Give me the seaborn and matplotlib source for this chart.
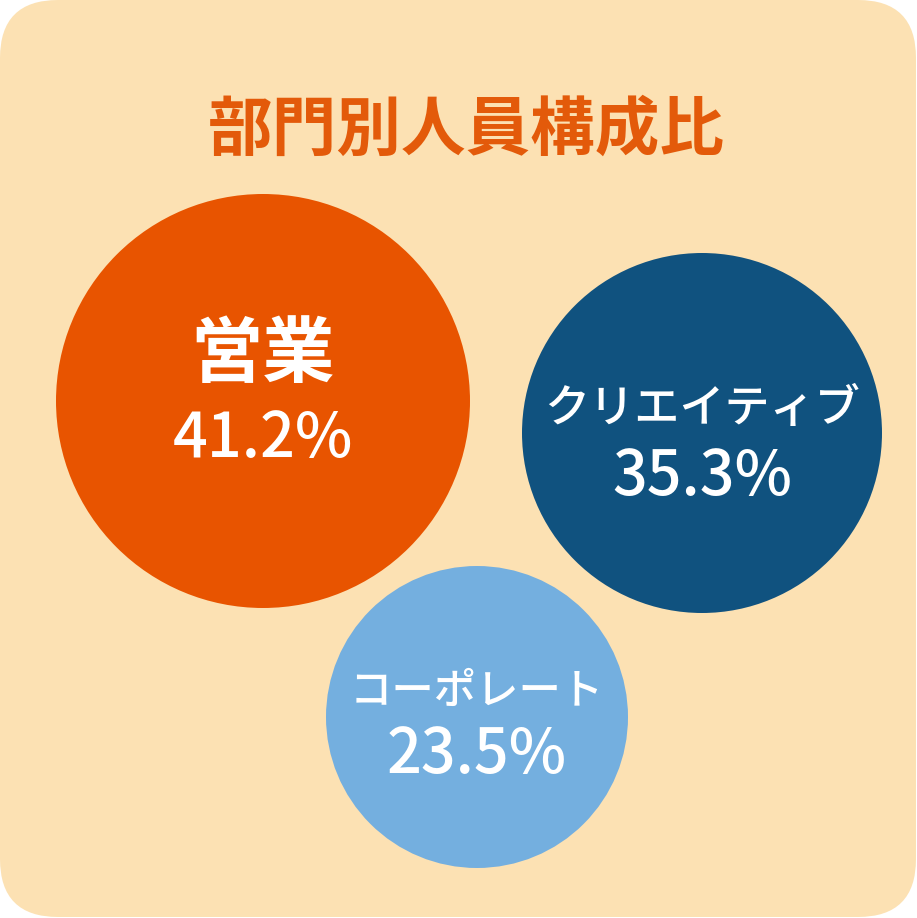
import numpy as np
import pandas as pd
import seaborn as sns
import matplotlib.pyplot as plt
from matplotlib.patches import FancyBboxPatch

# data
title = "部門別人員構成比"
departments = ["営業", "クリエイティブ", "コーポレート"]
shares = [41.2, 35.3, 23.5]

# bubble layout in pixels (packed, not data)
bubble_x = [263, 702, 477]
bubble_y = [401, 433, 717]
bubble_r = [207, 180, 151]
colors = ["#E85400", "#10527F", "#74AFDF"]
name_dy = [-45, -24, -26]
pct_dy = [39, 44, 39]
name_size = [52, 32.5, 30.5]
name_weight = ["bold", "medium", "medium"]

W, H, DPI = 917, 918, 100

sns.set_theme(style="white")
plt.rcParams["font.family"] = ["Noto Sans CJK JP", "DejaVu Sans"]

fig = plt.figure(figsize=(W / DPI, H / DPI), dpi=DPI)
fig.patch.set_facecolor("white")
ax = fig.add_axes([0, 0, 1, 1])
ax.set_xlim(0, W)
ax.set_ylim(H, 0)
ax.axis("off")

bg = FancyBboxPatch((0, 0), W - 1, H - 1,
                    boxstyle="round,pad=0,rounding_size=58",
                    facecolor="#FCE1B3", edgecolor="none", zorder=0)
ax.add_patch(bg)

df = pd.DataFrame({"dept": departments, "share": shares,
                   "x": bubble_x, "y": bubble_y, "r": bubble_r})

# marker area in points^2 from pixel radius
size_map = {d: (2 * r * 72 / DPI) ** 2 for d, r in zip(departments, bubble_r)}
sns.scatterplot(data=df, x="x", y="y", hue="dept", size="dept",
                palette=dict(zip(departments, colors)), sizes=size_map,
                linewidth=0, alpha=1, legend=False, ax=ax, zorder=2)
ax.set_xlim(0, W)
ax.set_ylim(H, 0)

ax.text(W / 2 + 8, 131, title, ha="center", va="center",
        fontsize=46.5, fontweight="bold", color="#E35A0A", zorder=3)

for i, row in df.iterrows():
    ax.text(row.x, row.y + name_dy[i], row.dept, ha="center", va="center",
            fontsize=name_size[i], fontweight=name_weight[i], color="white", zorder=3)
    ax.text(row.x, row.y + pct_dy[i], f"{row.share:.1f}%", ha="center",
            va="center", fontsize=44, fontweight="medium", color="white", zorder=3)

fig.savefig("out.png", dpi=DPI, facecolor="white")
